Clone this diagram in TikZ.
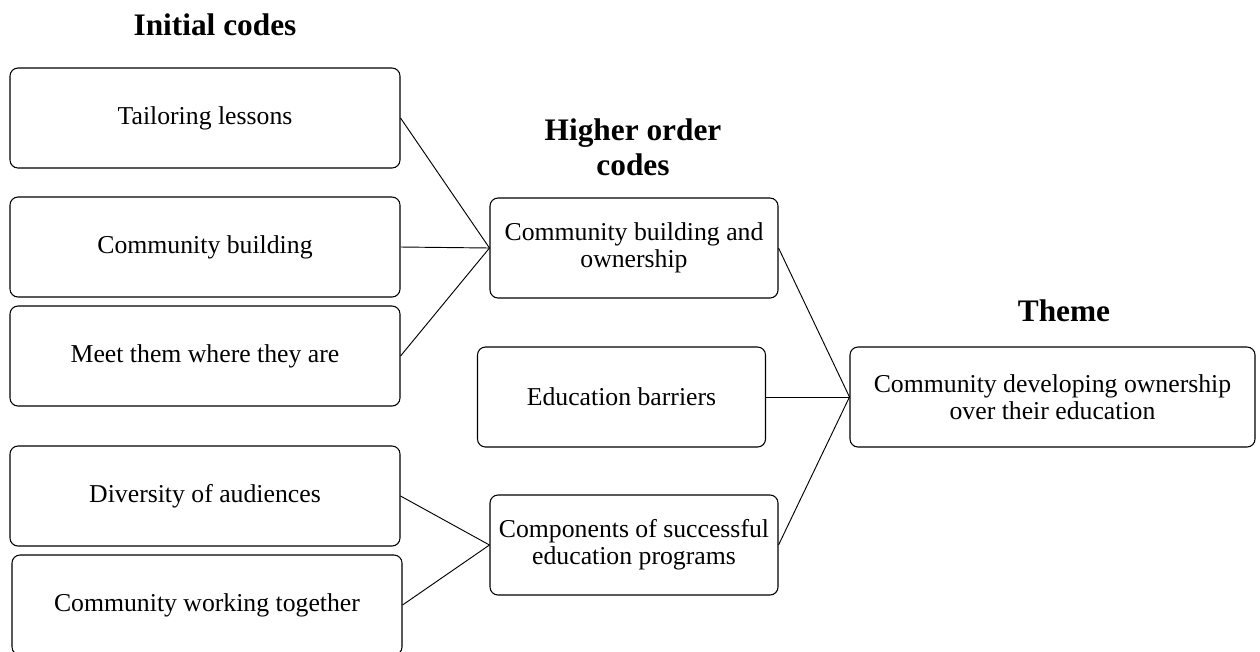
\documentclass[tikz,border=0pt]{standalone}
\usepackage{fontspec}
\setmainfont{Liberation Serif}
\usepackage{tikz}
\usetikzlibrary{positioning}

\begin{document}
\begin{tikzpicture}[
    x=0.75pt, y=-0.75pt,
    codebox/.style={
        draw=black,
        rounded corners=6pt,
        align=center,
        inner sep=2pt,
        minimum width=292.5pt,
        minimum height=75pt,
        line width=0.8pt,
        font=\fontsize{19.3}{20.5}\selectfont
    },
    higher/.style={
        codebox,
        minimum width=216pt
    },
    themebox/.style={
        codebox,
        minimum width=303.75pt
    },
    heading/.style={
        align=center,
        inner sep=0pt,
        font=\bfseries\fontsize{23.5}{26.3}\selectfont
    },
    link/.style={
        draw=black,
        line width=0.7pt
    }
]
\useasboundingbox (0,0) rectangle (1260,651);

% Headings
\node (hinit) [heading, anchor=base] at (215,35) {Initial codes};
\node (hhigh) [heading] at (633,147) {Higher order\\codes};
\node (htheme) [heading, anchor=base] at (1064,321) {Theme};

% Initial codes
\node (tailor) [codebox] at (205,118) {Tailoring lessons};
\node (build) [codebox] at (205,247) {Community building};
\node (meet) [codebox] at (205,356) {Meet them where they are};
\node (divers) [codebox] at (205,496) {Diversity of audiences};
\node (together) [codebox] at (207,605) {Community working together};

% Higher order codes
\node (owner) [higher] at (634,248) {Community building and\\ownership};
\node (barrier) [higher] at (621.5,397) {Education barriers};
\node (compo) [higher] at (634,545) {Components of successful\\education programs};

% Theme
\node (theme) [themebox] at (1052.5,397) {Community developing ownership\\over their education};

% Paths
\draw [link] (tailor.east) -- (owner.west);
\draw [link] (build.east) -- (owner.west);
\draw [link] (meet.east) -- (owner.west);
\draw [link] (divers.east) -- (compo.west);
\draw [link] (together.east) -- (compo.west);
\draw [link] (owner.east) -- (theme.west);
\draw [link] (barrier.east) -- (theme.west);
\draw [link] (compo.east) -- (theme.west);

\end{tikzpicture}
\end{document}
